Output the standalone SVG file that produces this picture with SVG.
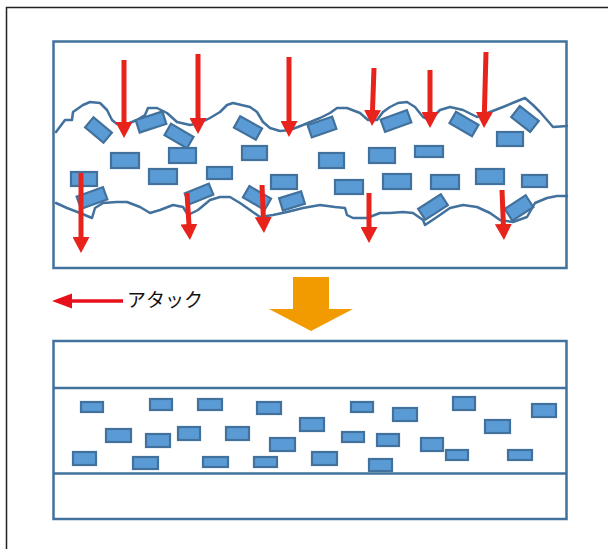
<svg xmlns="http://www.w3.org/2000/svg" width="608" height="549" viewBox="0 0 608 549">
  <style>
    .panel { fill: #ffffff; stroke: #41719c; stroke-width: 2.5; }
    .sep { stroke: #41719c; stroke-width: 2.5; fill: none; }
    .wave { fill: none; stroke: #41719c; stroke-width: 2.5; stroke-linejoin: round; stroke-linecap: round; }
    .p { fill: #5b9bd5; stroke: #41719c; stroke-width: 2.2; }
    .atk { stroke: #e8231c; stroke-width: 5; fill: none; marker-end: url(#head); }
    .label { font-family: "Noto Sans CJK JP", "Noto Sans", sans-serif; font-size: 19px; fill: #111111; }
  </style>
  <defs>
    <marker id="head" markerUnits="userSpaceOnUse" markerWidth="16" markerHeight="17" viewBox="0 0 16 17" refX="4" refY="8.5" orient="auto">
      <path d="M0,0 L16,8.5 L0,17 Z" fill="#e8231c"/>
    </marker>
  </defs>

  <!-- outer frame -->
  <g id="frame">
    <path d="M6.5,549 V7.5 H608" fill="none" stroke="#222222" stroke-width="1.5"/>
  </g>

  <!-- upper panel: rough film with particles -->
  <g id="panel-top">
    <rect class="panel" x="53.5" y="41.5" width="513" height="226.5"/>
    <path class="wave" d="M56,132 L65,120 L72,120 L73,112 L83,105 L90,102 L100,103 L107,110 L112,120 L117,124 L127,124 L137,120 L145,115 L148,108 L157,108 L167,113 L177,122 L190,125 L200,123 L210,118 L220,112 L227,105 L233,103 L250,107 L257,112 L263,122 L270,128 L280,131 L290,130 L303,125 L320,118 L330,113 L337,108 L347,108 L360,113 L368,120 L377,120 L383,112 L390,107 L398,103 L407,102 L415,107 L423,117 L430,120 L440,110 L450,107 L463,110 L477,117 L490,112 L503,107 L515,102 L525,98 L533,105 L540,112 L547,120 L553,127 L567,126"/>
    <path class="wave" d="M56,203 L67,208 L80,213 L92,218 L95,208 L103,203 L117,202 L127,202 L140,207 L150,213 L160,210 L173,205 L183,207 L188,215 L198,210 L210,200 L220,197 L230,197 L240,203 L250,210 L260,217 L273,215 L287,212 L303,208 L320,205 L335,207 L345,208 L347,215 L353,218 L367,218 L380,213 L390,213 L403,212 L413,213 L423,220 L425,225 L437,217 L450,208 L463,205 L477,207 L490,213 L500,220 L513,222 L527,217 L535,203 L547,198 L557,196 L567,196"/>

    <!-- tilted particles -->
    <rect class="p" x="-12" y="-6.5" width="24" height="13" transform="translate(98.5,130) rotate(40)"/>
    <rect class="p" x="-14" y="-6.5" width="28" height="13" transform="translate(151,122) rotate(-18)"/>
    <rect class="p" x="-13" y="-6.5" width="26" height="13" transform="translate(179,136) rotate(30)"/>
    <rect class="p" x="-12.5" y="-6.5" width="25" height="13" transform="translate(248,128) rotate(29)"/>
    <rect class="p" x="-13" y="-6.5" width="26" height="13" transform="translate(322,127) rotate(-19)"/>
    <rect class="p" x="-14" y="-6.5" width="28" height="13" transform="translate(396,121) rotate(-20)"/>
    <rect class="p" x="-13" y="-6.5" width="26" height="13" transform="translate(464,124) rotate(30)"/>
    <rect class="p" x="-12" y="-7" width="24" height="14" transform="translate(525,119) rotate(38)"/>
    <rect class="p" x="-14" y="-6.5" width="28" height="13" transform="translate(92,198) rotate(-20)"/>
    <rect class="p" x="-13" y="-6" width="26" height="12" transform="translate(199,194) rotate(-22)"/>
    <rect class="p" x="-12.5" y="-6.5" width="25" height="13" transform="translate(257,198) rotate(30)"/>
    <rect class="p" x="-11.5" y="-6.5" width="23" height="13" transform="translate(292,201) rotate(-17)"/>
    <rect class="p" x="-13.5" y="-6.5" width="27" height="13" transform="translate(433,207) rotate(-33)"/>
    <rect class="p" x="-12.5" y="-7" width="25" height="14" transform="translate(519,208) rotate(-33)"/>

    <!-- level particles -->
    <rect class="p" x="111" y="153" width="28" height="15"/>
    <rect class="p" x="169" y="148" width="27" height="15"/>
    <rect class="p" x="149" y="169" width="28" height="15"/>
    <rect class="p" x="71" y="172" width="26" height="14"/>
    <rect class="p" x="207" y="167" width="25" height="12"/>
    <rect class="p" x="242" y="146" width="25" height="14"/>
    <rect class="p" x="319" y="153" width="25" height="15"/>
    <rect class="p" x="369" y="148" width="26" height="15"/>
    <rect class="p" x="271" y="175" width="26" height="14"/>
    <rect class="p" x="335" y="180" width="28" height="14"/>
    <rect class="p" x="383" y="174" width="28" height="15"/>
    <rect class="p" x="415" y="146" width="28" height="11"/>
    <rect class="p" x="497" y="132" width="26" height="14"/>
    <rect class="p" x="431" y="175" width="28" height="14"/>
    <rect class="p" x="476" y="169" width="28" height="15"/>
    <rect class="p" x="522" y="175" width="25" height="12"/>
  </g>

  <!-- attack arrows -->
  <g id="attack-arrows">
    <line class="atk" x1="124" y1="60" x2="124" y2="126"/>
    <line class="atk" x1="198" y1="54" x2="198" y2="122"/>
    <line class="atk" x1="289" y1="57" x2="289" y2="125"/>
    <line class="atk" x1="374" y1="68" x2="372.4" y2="114"/>
    <line class="atk" x1="430" y1="70" x2="430" y2="116"/>
    <line class="atk" x1="486" y1="52" x2="484.3" y2="116"/>
    <line class="atk" x1="81" y1="173" x2="81" y2="241"/>
    <line class="atk" x1="187" y1="193" x2="189.2" y2="228"/>
    <line class="atk" x1="262" y1="185" x2="263.5" y2="221"/>
    <line class="atk" x1="369" y1="193" x2="369" y2="231"/>
    <line class="atk" x1="502" y1="190" x2="503.5" y2="228"/>
  </g>

  <!-- legend -->
  <g id="legend">
    <line x1="70" y1="301" x2="123" y2="301" stroke="#e60f1b" stroke-width="3.5"/>
    <path d="M52,301 L72,293.5 L72,308.5 Z" fill="#e60f1b"/>
    <text class="label" x="127" y="307">アタック</text>
  </g>

  <!-- transition arrow -->
  <g id="transition-arrow">
    <path d="M293,277 H329 V309 H353 L311,331 L269,309 H293 Z" fill="#f29b00"/>
  </g>

  <!-- lower panel: flat layer with particles -->
  <g id="panel-bottom">
    <rect class="panel" x="53.5" y="341" width="513" height="178"/>
    <line class="sep" x1="53.5" y1="388" x2="566.5" y2="388"/>
    <line class="sep" x1="53.5" y1="473.5" x2="566.5" y2="473.5"/>

    <rect class="p" x="81" y="402" width="22" height="10"/>
    <rect class="p" x="150" y="399" width="22" height="11"/>
    <rect class="p" x="198" y="399" width="24" height="11"/>
    <rect class="p" x="257" y="402" width="24" height="12"/>
    <rect class="p" x="300" y="418" width="24" height="13"/>
    <rect class="p" x="106" y="429" width="25" height="13"/>
    <rect class="p" x="146" y="434" width="24" height="13"/>
    <rect class="p" x="178" y="427" width="22" height="13"/>
    <rect class="p" x="226" y="427" width="23" height="13"/>
    <rect class="p" x="270" y="438" width="25" height="13"/>
    <rect class="p" x="73" y="452" width="23" height="13"/>
    <rect class="p" x="133" y="457" width="25" height="12"/>
    <rect class="p" x="203" y="457" width="25" height="10"/>
    <rect class="p" x="254" y="457" width="23" height="10"/>
    <rect class="p" x="351" y="402" width="22" height="10"/>
    <rect class="p" x="393" y="408" width="24" height="13"/>
    <rect class="p" x="453" y="397" width="22" height="13"/>
    <rect class="p" x="532" y="404" width="24" height="13"/>
    <rect class="p" x="485" y="420" width="25" height="13"/>
    <rect class="p" x="342" y="432" width="22" height="10"/>
    <rect class="p" x="377" y="434" width="22" height="12"/>
    <rect class="p" x="421" y="438" width="22" height="13"/>
    <rect class="p" x="312" y="452" width="25" height="13"/>
    <rect class="p" x="369" y="459" width="23" height="12"/>
    <rect class="p" x="446" y="450" width="22" height="10"/>
    <rect class="p" x="508" y="450" width="24" height="10"/>
  </g>
</svg>
